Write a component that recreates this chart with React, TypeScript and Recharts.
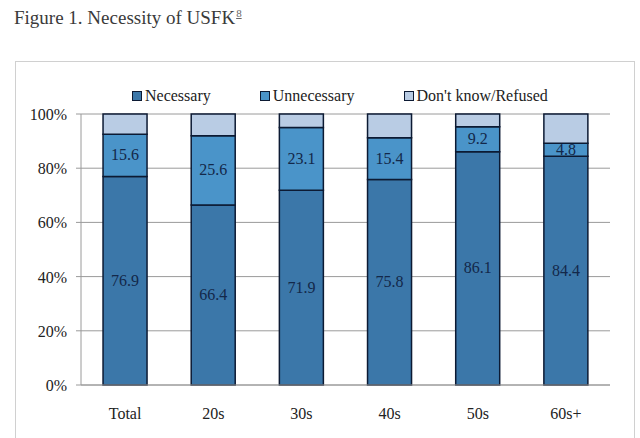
import { BarChart, Bar, XAxis, YAxis, CartesianGrid, LabelList } from 'recharts'

const GROUPS = ['Total', '20s', '30s', '40s', '50s', '60s+']
const NECESSARY = [76.9, 66.4, 71.9, 75.8, 86.1, 84.4]
const UNNECESSARY = [15.6, 25.6, 23.1, 15.4, 9.2, 4.8]
const DONT_KNOW = [7.5, 8.0, 5.0, 8.8, 4.7, 10.8]
const Y_TICKS = [0, 20, 40, 60, 80, 100]

const SERIES = [
  { key: 'necessary', name: 'Necessary', color: '#3b77a9' },
  { key: 'unnecessary', name: 'Unnecessary', color: '#4a94c9' },
  { key: 'dontKnow', name: "Don't know/Refused", color: '#b9cce4' },
]

const data = GROUPS.map((g, i) => ({
  group: g,
  necessary: NECESSARY[i],
  unnecessary: UNNECESSARY[i],
  dontKnow: DONT_KNOW[i],
}))

const SERIF = '"Liberation Serif", "Times New Roman", serif'
const EDGE = '#0c1a33'

// legend drawn as plain html above the plot
function TopLegend() {
  return (
    <div style={{ position: 'absolute', left: 132, top: 87, display: 'flex', alignItems: 'center', fontFamily: SERIF, fontSize: 16, color: '#222' }}>
      {SERIES.map((s, i) => (
        <div key={s.key} style={{ display: 'flex', alignItems: 'center', marginRight: i < 2 ? 49 : 0 }}>
          <span style={{ width: 8, height: 8, background: s.color, border: `1px solid ${EDGE}`, marginRight: 3 }} />
          <span>{s.name}</span>
        </div>
      ))}
    </div>
  )
}

function XTick({ x, y, payload }: any) {
  return (
    <text x={x} y={y + 26} textAnchor="middle" style={{ fontFamily: SERIF, fontSize: 16 }} fill="#222">
      {payload.value}
    </text>
  )
}

function YTick({ x, y, payload }: any) {
  return (
    <text x={x - 7} y={y + 6} textAnchor="end" style={{ fontFamily: SERIF, fontSize: 16 }} fill="#222">
      {payload.value}%
    </text>
  )
}

function SegLabel({ x, y, width, height, value }: any) {
  return (
    <text x={x + width / 2} y={y + height / 2 + 5} textAnchor="middle"
      style={{ fontFamily: SERIF, fontSize: 16 }} fill="#13284a">
      {Number(value).toFixed(1)}
    </text>
  )
}

export default function App() {
  return (
    <div style={{ position: 'relative', width: 640, height: 438, background: '#fff', overflow: 'hidden' }}>
      <style>{'body{margin:0}'}</style>
      <div style={{ position: 'absolute', left: 14, top: 7, fontFamily: SERIF, fontSize: 19, color: '#3a3a3a' }}>
        Figure 1. Necessity of USFK
        <sup style={{ fontSize: 11, color: '#666', textDecoration: 'underline', marginLeft: 1 }}>8</sup>
      </div>
      <div style={{ position: 'absolute', left: 15, top: 61, width: 618, height: 420, border: '1px solid #d0d0d0' }} />
      <div style={{ position: 'absolute', left: 0, top: 0 }}>
        <BarChart width={640} height={438} data={data} margin={{ top: 114, right: 30, bottom: 23, left: 0 }}
          barCategoryGap="25%">
          <CartesianGrid vertical={false} stroke="#9a9a9a" />
          <XAxis dataKey="group" height={30} tick={<XTick />} tickLine={false} axisLine={{ stroke: '#9a9a9a' }} interval={0} />
          <YAxis width={81} domain={[0, 100]} ticks={Y_TICKS} tick={<YTick />} tickSize={5}
            tickLine={{ stroke: '#9a9a9a' }} axisLine={{ stroke: '#9a9a9a' }} />
          {SERIES.map((s) => (
            <Bar key={s.key} dataKey={s.key} name={s.name} stackId="a" fill={s.color}
              stroke={EDGE} strokeWidth={1.5} isAnimationActive={false}>
              {s.key !== 'dontKnow' && <LabelList dataKey={s.key} content={<SegLabel />} />}
            </Bar>
          ))}
        </BarChart>
      </div>
      <TopLegend />
    </div>
  )
}
